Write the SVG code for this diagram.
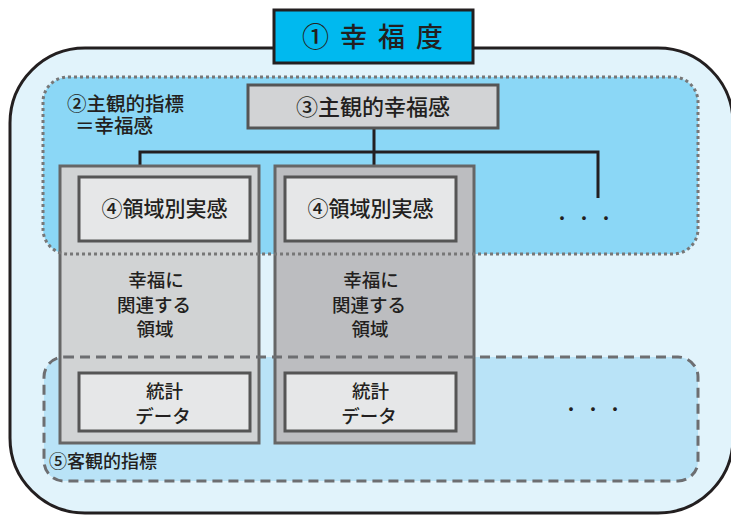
<svg xmlns="http://www.w3.org/2000/svg" width="731" height="516" viewBox="0 0 731 516">
<style>
text{font-family:"Noto Sans CJK JP","Noto Sans",sans-serif;fill:#231f20;font-weight:500}
.t{font-size:21px;text-anchor:middle}
.m{font-size:18.5px;text-anchor:middle}
.col{stroke:#666;stroke-width:3}
.inner{fill:#e6e7e8;stroke:#555;stroke-width:3}
.conn{stroke:#231f20;stroke-width:3;fill:none}
.dots{font-size:16px;letter-spacing:6px}
</style>
<g id="outer">
<rect x="10" y="48" width="723" height="465" rx="75" fill="#e1f3fb" stroke="#231f20" stroke-width="3"/>
</g>
<g id="n1">
<rect x="274" y="10" width="199" height="53" fill="#00b9ef" stroke="#231f20" stroke-width="3"/>
<text x="378" y="47" font-size="27" font-weight="bold" text-anchor="middle" letter-spacing="11">①幸福度</text>
</g>
<g id="n2-fill"><rect x="43" y="77" width="655" height="177" rx="25" fill="#8bd7f6"/></g>
<g id="n5-fill"><rect x="44" y="357" width="654" height="124" rx="20" fill="#b9e3f7"/></g>
<g id="connectors">
<path class="conn" d="M374 128V166M140 166V152H598V198"/>
</g>
<g id="n3">
<rect x="248" y="85" width="250" height="43" fill="#d2d3d5" stroke="#555" stroke-width="3"/>
<text x="373" y="115" font-size="22" text-anchor="middle">③主観的幸福感</text>
</g>
<g id="col1">
<rect class="col" x="60" y="166" width="199" height="277" fill="#d1d3d4"/>
<rect class="inner" x="79" y="177" width="171" height="64"/>
<text class="t" x="164.5" y="216">④領域別実感</text>
<text class="m"><tspan x="156" y="287">幸福に</tspan><tspan x="154" y="311.5">関連する</tspan><tspan x="155" y="336">領域</tspan></text>
<rect class="inner" x="79" y="373" width="171" height="58"/>
<text class="m"><tspan x="164.5" y="398">統計</tspan><tspan x="163" y="423">データ</tspan></text>
</g>
<g id="col2">
<rect class="col" x="275" y="166" width="199" height="277" fill="#bcbdc0"/>
<rect class="inner" x="285" y="177" width="171" height="64"/>
<text class="t" x="370.5" y="216">④領域別実感</text>
<text class="m"><tspan x="371" y="287">幸福に</tspan><tspan x="369" y="311.5">関連する</tspan><tspan x="370" y="336">領域</tspan></text>
<rect class="inner" x="285" y="373" width="171" height="58"/>
<text class="m"><tspan x="370.5" y="398">統計</tspan><tspan x="369" y="423">データ</tspan></text>
</g>
<g id="n2">
<rect x="43" y="77" width="655" height="177" rx="25" fill="none" stroke="#777" stroke-width="3" stroke-dasharray="3 3"/>
<text font-size="19.5"><tspan x="67" y="111">②主観的指標</tspan><tspan x="75" y="133">＝幸福感</tspan></text>
<text class="dots" x="554" y="224">・・・</text>
</g>
<g id="n5">
<rect x="44" y="357" width="654" height="124" rx="20" fill="none" stroke="#6d6e71" stroke-width="3" stroke-dasharray="10 6"/>
<text x="49" y="468" font-size="18">⑤客観的指標</text>
<text class="dots" x="563" y="415">・・・</text>
</g>
</svg>
